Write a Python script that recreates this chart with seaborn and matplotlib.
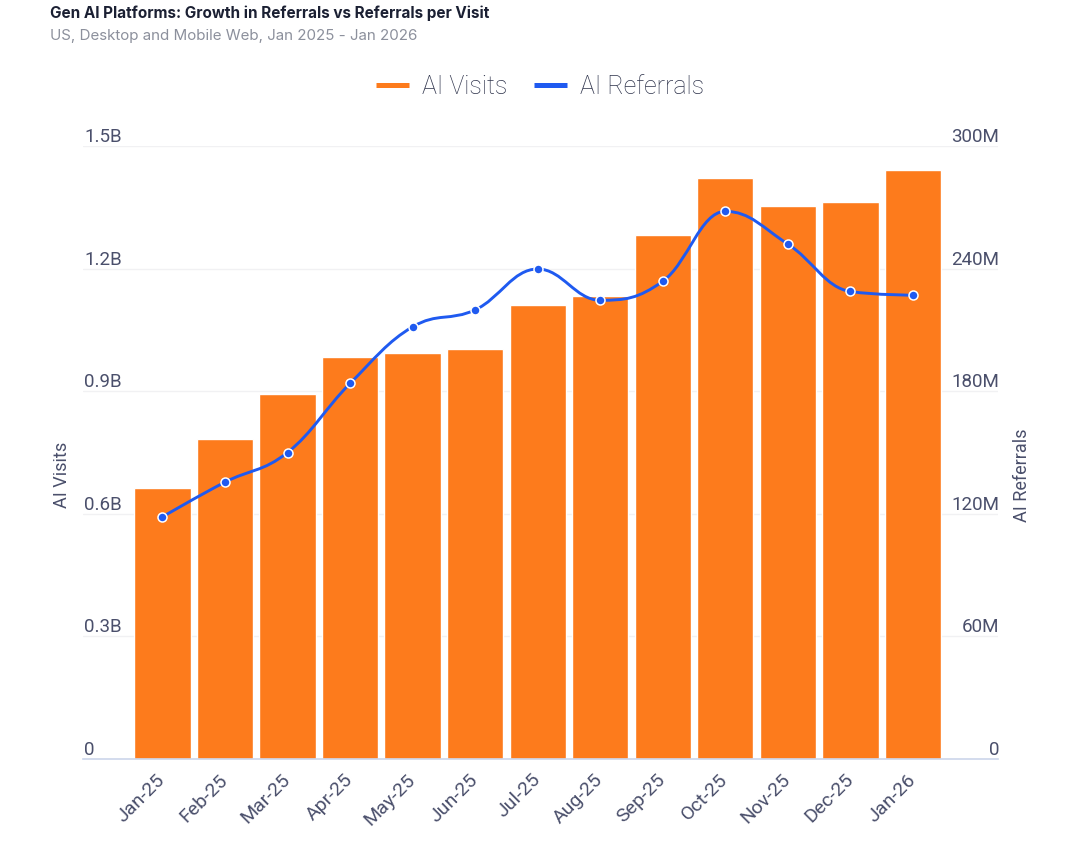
import numpy as np
import matplotlib
matplotlib.use("Agg")
import matplotlib.pyplot as plt
from matplotlib.path import Path
from matplotlib.patches import PathPatch
from matplotlib.lines import Line2D
import seaborn as sns

# chart data
months = ["Jan-25", "Feb-25", "Mar-25", "Apr-25", "May-25", "Jun-25", "Jul-25",
          "Aug-25", "Sep-25", "Oct-25", "Nov-25", "Dec-25", "Jan-26"]
ai_visits = [0.662e9, 0.782e9, 0.893e9, 0.983e9, 0.993e9, 1.003e9, 1.112e9,
             1.134e9, 1.282e9, 1.422e9, 1.352e9, 1.362e9, 1.441e9]
ai_referrals = [118.5e6, 135.5e6, 150.0e6, 183.8e6, 211.5e6, 219.8e6, 239.8e6,
                224.5e6, 233.8e6, 268.0e6, 252.0e6, 228.8e6, 227.0e6]
visit_ticks = [0, 0.3e9, 0.6e9, 0.9e9, 1.2e9, 1.5e9]
visit_labels = ["0", "0.3B", "0.6B", "0.9B", "1.2B", "1.5B"]
ref_ticks = [0, 60e6, 120e6, 180e6, 240e6, 300e6]
ref_labels = ["0", "60M", "120M", "180M", "240M", "300M"]

ORANGE = "#fd7b1c"
BLUE = "#1f5af0"
TEXT = "#2f344c"
TICK = "#4a4f6b"

sns.set_theme(style="white")
plt.rcParams["font.family"] = ["Roboto", "DejaVu Sans"]


def spline_path(xs, ys, smoothing=1.5):
    # highcharts style spline built from bezier control points
    n = len(xs)
    lcx, lcy, rcx, rcy = list(xs), list(ys), list(xs), list(ys)
    denom = smoothing + 1
    for i in range(1, n - 1):
        px, py = xs[i], ys[i]
        lx, ly = xs[i - 1], ys[i - 1]
        nx, ny = xs[i + 1], ys[i + 1]
        l_x = (smoothing * px + lx) / denom
        l_y = (smoothing * py + ly) / denom
        r_x = (smoothing * px + nx) / denom
        r_y = (smoothing * py + ny) / denom
        corr = ((r_y - l_y) * (r_x - px)) / (r_x - l_x) + py - r_y
        l_y += corr
        r_y += corr
        if l_y > ly and l_y > py:
            l_y = max(ly, py)
            r_y = 2 * py - l_y
        elif l_y < ly and l_y < py:
            l_y = min(ly, py)
            r_y = 2 * py - l_y
        if r_y > ny and r_y > py:
            r_y = max(ny, py)
            l_y = 2 * py - r_y
        elif r_y < ny and r_y < py:
            r_y = min(ny, py)
            l_y = 2 * py - r_y
        lcx[i], lcy[i], rcx[i], rcy[i] = l_x, l_y, r_x, r_y
    verts = [(xs[0], ys[0])]
    codes = [Path.MOVETO]
    for i in range(1, n):
        verts += [(rcx[i - 1], rcy[i - 1]), (lcx[i], lcy[i]), (xs[i], ys[i])]
        codes += [Path.CURVE4] * 3
    return Path(verts, codes)


fig = plt.figure(figsize=(10.68, 8.5), dpi=100)
ax = fig.add_axes([83 / 1068, 1 - 759 / 850, 915 / 1068, 613 / 850])

sns.barplot(x=months, y=ai_visits, color=ORANGE, saturation=1, width=0.9,
            ax=ax, zorder=2)
ax.set_xlim(-1.27, 13.36)
ax.set_ylim(0, 1.5e9)
ax.set_yticks(visit_ticks)
ax.set_yticklabels(visit_labels)
ax.grid(axis="y", color="#f1f1f3", linewidth=1, zorder=0)
ax.set_axisbelow(True)
for s in ["top", "left", "right"]:
    ax.spines[s].set_visible(False)
ax.spines["bottom"].set_color("#ccd6eb")
ax.spines["bottom"].set_linewidth(1.2)
ax.tick_params(axis="y", length=0, pad=-1, labelsize=13.5, labelcolor=TICK)
ax.tick_params(axis="x", length=0, pad=13, labelsize=14, labelcolor=TICK)
for lbl in ax.get_yticklabels():
    lbl.set_ha("left")
    lbl.set_va("bottom")
for lbl in ax.get_xticklabels():
    lbl.set_rotation(45)
    lbl.set_ha("right")
    lbl.set_va("center")
    lbl.set_rotation_mode("anchor")
ax.set_xlabel("")
ax.set_ylabel("AI Visits", fontsize=13, color=TICK)
ax.yaxis.set_label_coords(-0.013, 0.463)

ax2 = ax.twinx()
ax2.set_ylim(0, 300e6)
ax2.set_yticks(ref_ticks)
ax2.set_yticklabels(ref_labels)
for s in ["top", "left", "right", "bottom"]:
    ax2.spines[s].set_visible(False)
ax2.tick_params(axis="y", length=0, pad=1, labelsize=13.5, labelcolor=TICK)
for lbl in ax2.get_yticklabels():
    lbl.set_ha("right")
    lbl.set_va("bottom")
ax2.grid(False)

xpos = np.arange(len(months))
ax2.add_patch(PathPatch(spline_path(list(xpos), ai_referrals), fill=False,
                        edgecolor=BLUE, linewidth=2.1, zorder=3,
                        capstyle="round", joinstyle="round"))
sns.scatterplot(x=xpos, y=ai_referrals, ax=ax2, color=BLUE, s=42,
                edgecolor="white", linewidth=1.1, zorder=4, legend=False)
ax2.set_ylabel("AI Referrals", fontsize=13, color=TICK, rotation=90)
ax2.yaxis.set_label_coords(1.016, 0.463)
ax2.set_xlim(-1.27, 13.36)

# legend
handles = [Line2D([], [], color=ORANGE, linewidth=3.6, solid_capstyle="butt"),
           Line2D([], [], color=BLUE, linewidth=3.6, solid_capstyle="butt")]
leg = fig.legend(handles, ["AI Visits", "AI Referrals"], loc="center",
                 bbox_to_anchor=(540 / 1068, 1 - 87 / 850), ncol=2, frameon=False,
                 fontsize=18, handlelength=1.32, handletextpad=0.52,
                 columnspacing=1.05, labelcolor=TEXT)
for t in leg.get_texts():
    t.set_fontweight("light")

fig.text(50 / 1068, 1 - 13 / 850, "Gen AI Platforms: Growth in Referrals vs Referrals per Visit",
         fontsize=11, fontweight="bold", color="#1b2033", va="center",
         family=["Inter", "DejaVu Sans"])
fig.text(50 / 1068, 1 - 36 / 850, "US, Desktop and Mobile Web, Jan 2025 - Jan 2026",
         fontsize=10.9, color="#8c909c", va="center", family=["Inter", "DejaVu Sans"])

fig.savefig("out.png", dpi=100, facecolor="white")
